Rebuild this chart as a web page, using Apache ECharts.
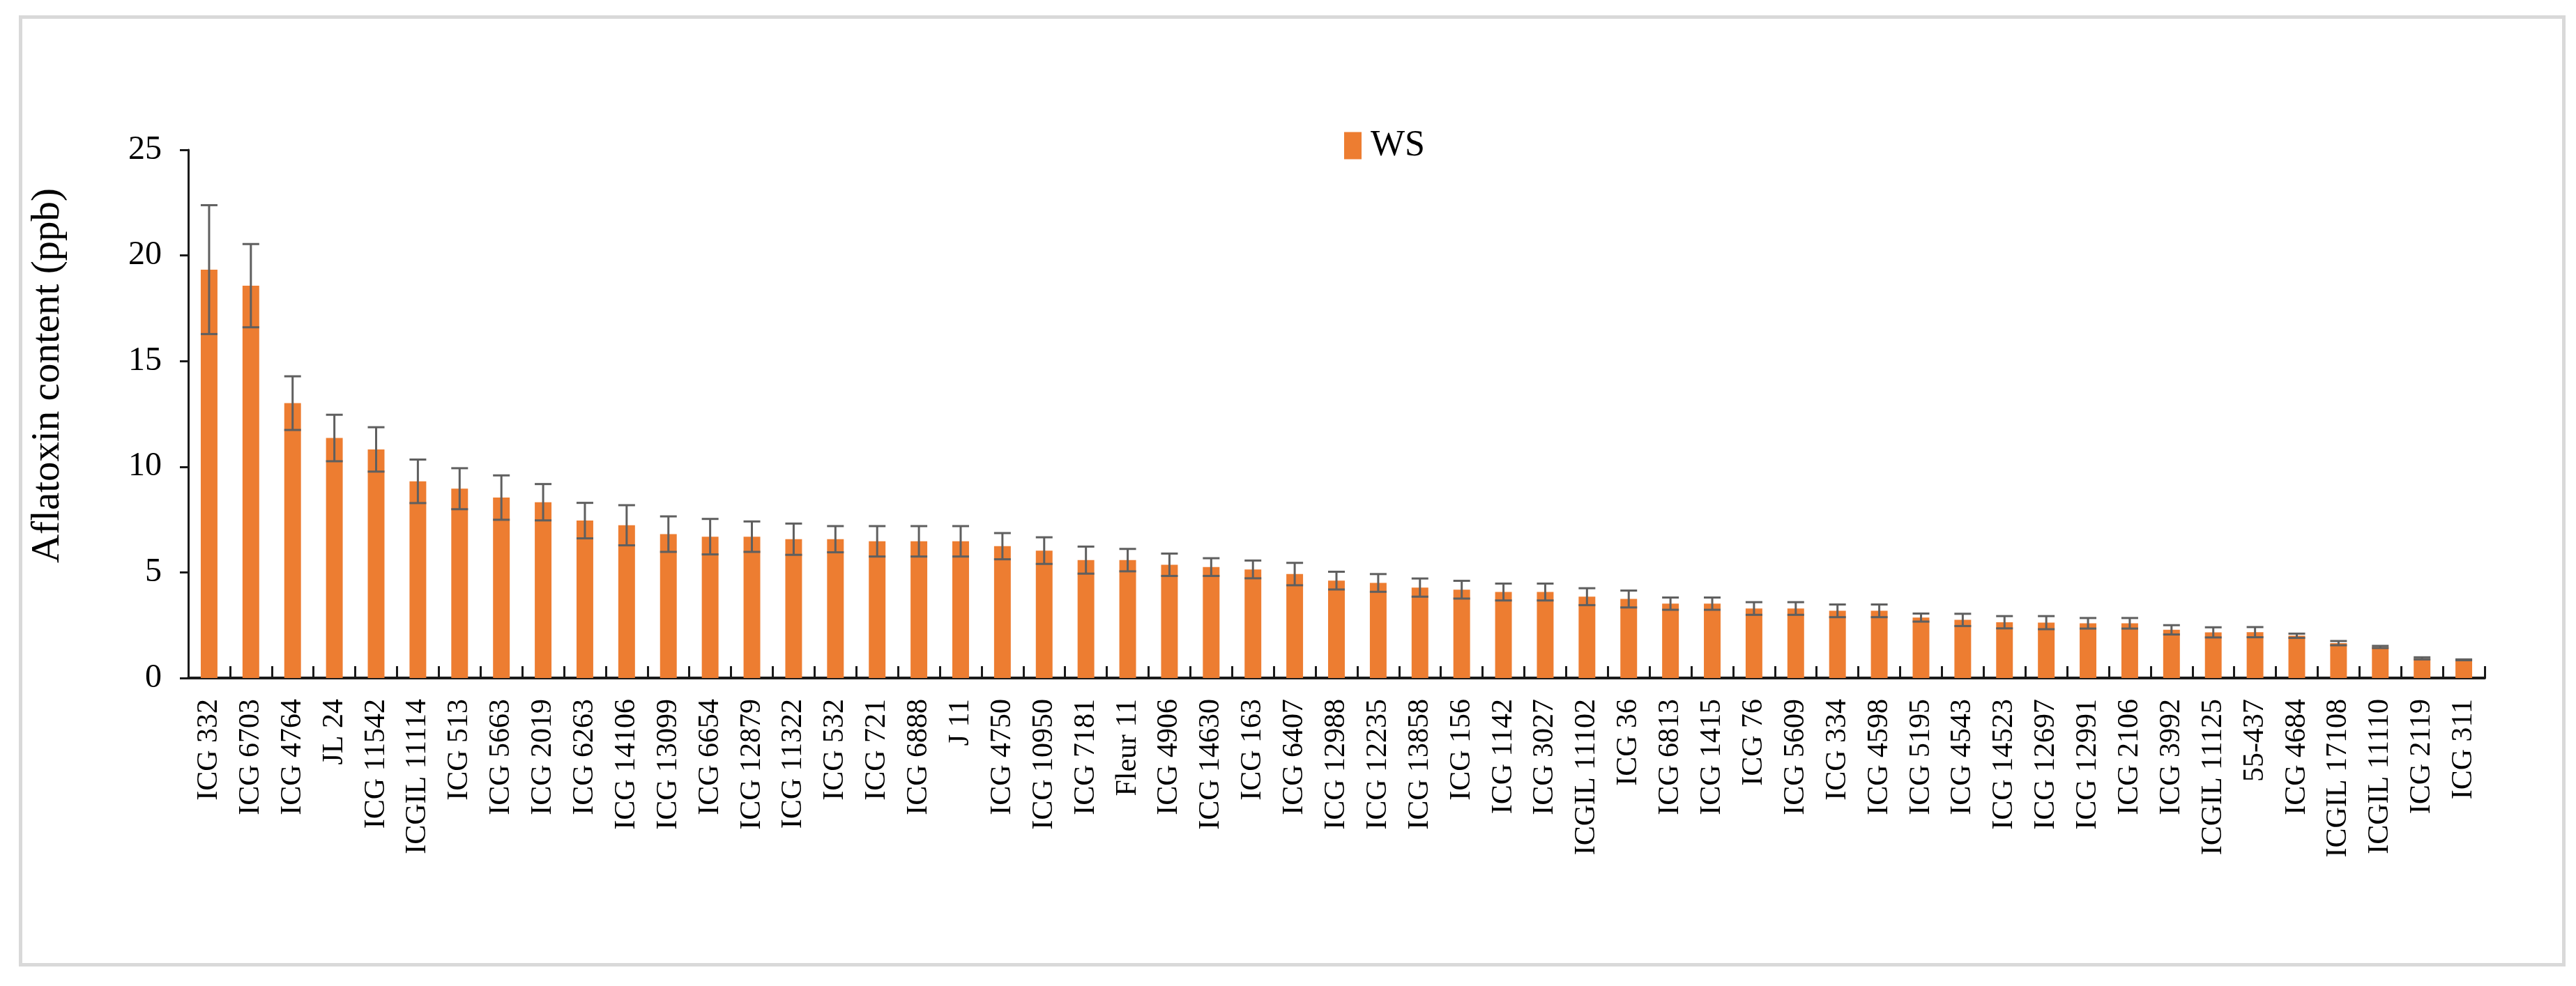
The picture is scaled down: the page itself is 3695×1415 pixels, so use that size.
<!DOCTYPE html>
<html>
<head>
<meta charset="utf-8">
<script src="https://cdn.jsdelivr.net/npm/echarts@6/dist/echarts.min.js"></script>
<style>
html,body{margin:0;padding:0;background:#fff;}
#chart{width:3695px;height:1415px;}
</style>
</head>
<body>
<div id="chart"></div>
<script>
var categories = ["ICG 332","ICG 6703","ICG 4764","JL 24","ICG 11542","ICGIL 11114","ICG 513","ICG 5663","ICG 2019","ICG 6263","ICG 14106","ICG 13099","ICG 6654","ICG 12879","ICG 11322","ICG 532","ICG 721","ICG 6888","J 11","ICG 4750","ICG 10950","ICG 7181","Fleur 11","ICG 4906","ICG 14630","ICG 163","ICG 6407","ICG 12988","ICG 12235","ICG 13858","ICG 156","ICG 1142","ICG 3027","ICGIL 11102","ICG 36","ICG 6813","ICG 1415","ICG 76","ICG 5609","ICG 334","ICG 4598","ICG 5195","ICG 4543","ICG 14523","ICG 12697","ICG 12991","ICG 2106","ICG 3992","ICGIL 11125","55-437","ICG 4684","ICGIL 17108","ICGIL 11110","ICG 2119","ICG 311"];
var wsValues = [19.33,18.57,13.01,11.36,10.82,9.31,8.96,8.54,8.32,7.45,7.23,6.81,6.69,6.69,6.57,6.57,6.47,6.47,6.47,6.24,6.03,5.58,5.58,5.36,5.25,5.14,4.92,4.61,4.50,4.28,4.18,4.07,4.07,3.85,3.74,3.52,3.52,3.29,3.29,3.18,3.18,2.86,2.75,2.64,2.62,2.59,2.59,2.28,2.16,2.17,2.00,1.65,1.47,0.93,0.86];
var wsErrors = [3.05,1.97,1.27,1.10,1.05,1.03,0.97,1.05,0.86,0.84,0.95,0.84,0.84,0.72,0.74,0.62,0.72,0.72,0.72,0.62,0.63,0.64,0.53,0.53,0.42,0.42,0.53,0.42,0.42,0.43,0.42,0.40,0.40,0.40,0.40,0.29,0.29,0.30,0.30,0.30,0.30,0.19,0.29,0.29,0.31,0.25,0.25,0.22,0.24,0.24,0.10,0.10,0.05,0.05,0.02];
var yTicks = {min:0, max:25, interval:5};

var errData = wsValues.map(function(v,i){ return [i, v - wsErrors[i], v + wsErrors[i]]; });

var chart = echarts.init(document.getElementById('chart'), null, {renderer:'canvas'});
var serif = '"Liberation Serif", "Times New Roman", serif';
chart.setOption({
  animation:false,
  backgroundColor:'#fff',
  graphic:[{
    type:'rect', left:27, top:22, z:-1,
    shape:{x:0,y:0,width:3648,height:1360},
    style:{fill:'none', stroke:'#d9d9d9', lineWidth:5}
  }],
  legend:{
    data:['WS'], left:1923, top:178, icon:'rect', itemWidth:25, itemHeight:39,
    textStyle:{fontFamily:serif, fontSize:52, color:'#000', padding:[0,0,0,8]}
  },
  grid:{left:270, right:131, top:215, bottom:442, containLabel:false},
  xAxis:{
    type:'category', data:categories, boundaryGap:true,
    axisLine:{lineStyle:{color:'#1a1a1a', width:4}},
    axisTick:{show:true, inside:true, length:17, lineStyle:{color:'#1a1a1a', width:3}},
    axisLabel:{rotate:90, interval:0, margin:30, fontFamily:serif, fontSize:42, color:'#000'}
  },
  yAxis:{
    type:'value', min:yTicks.min, max:yTicks.max, interval:yTicks.interval,
    name:'Aflatoxin content (ppb)', nameLocation:'middle', nameGap:172,
    nameTextStyle:{fontFamily:serif, fontSize:57, color:'#000', padding:[0,0,0,110]},
    splitLine:{show:false},
    axisLine:{show:true, lineStyle:{color:'#1a1a1a', width:3}},
    axisTick:{show:true, inside:false, length:12, lineStyle:{color:'#1a1a1a', width:3}},
    axisLabel:{margin:38, fontFamily:serif, fontSize:48, color:'#000'}
  },
  series:[{
    name:'WS', type:'bar', data:wsValues, barWidth:'40%',
    itemStyle:{color:'#ED7D31'}
  },{
    name:'err', type:'custom', data:errData, z:5,
    renderItem:function(params, api){
      var x = api.value(0);
      var lo = api.coord([x, api.value(1)]);
      var hi = api.coord([x, api.value(2)]);
      var hw = 12;
      var st = {stroke:'#5f5f5f', lineWidth:3};
      return {type:'group', children:[
        {type:'line', shape:{x1:lo[0],y1:lo[1],x2:hi[0],y2:hi[1]}, style:st},
        {type:'line', shape:{x1:hi[0]-hw,y1:hi[1],x2:hi[0]+hw,y2:hi[1]}, style:st},
        {type:'line', shape:{x1:lo[0]-hw,y1:lo[1],x2:lo[0]+hw,y2:lo[1]}, style:st}
      ]};
    },
    encode:{x:0, y:[1,2]}
  }]
});
</script>
</body>
</html>
